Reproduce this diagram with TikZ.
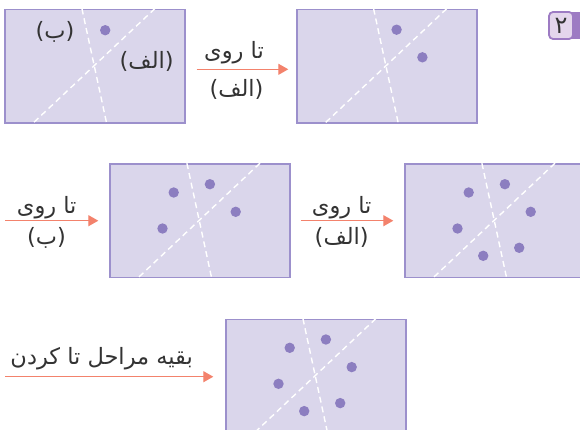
\documentclass[tikz,border=0pt]{standalone}
\usepackage{fontspec}
\usetikzlibrary{arrows.meta}
\TeXXeTstate=1
\newfontfamily\arabicfont[Script=Arabic]{DejaVu Sans}
\definecolor{sheetfill}{HTML}{DAD6EB}
\definecolor{sheetline}{HTML}{9C90CC}
\definecolor{dotcol}{HTML}{8C7EC0}
\definecolor{arrowcol}{HTML}{F3826C}
\definecolor{textcol}{HTML}{333333}
\definecolor{badgefill}{HTML}{E4D6EC}
\definecolor{badgeline}{HTML}{9D7BC3}

\begin{document}
\begin{tikzpicture}[x=1pt,y=-1pt,
  sheet/.style={draw=sheetline,fill=sheetfill,line width=1.6pt,minimum width=180pt,minimum height=113.5pt,inner sep=0pt},
  fold/.style={white,line width=1.4pt,dash pattern=on 6pt off 4pt},
  dot/.style={fill=dotcol},
  foldarrow/.style={arrowcol,line width=1.2pt,-{Triangle[length=10pt,width=11pt]}},
  lbl/.style={text=textcol,font=\arabicfont\fontsize{22.5}{26}\selectfont,inner sep=0pt}]
  \useasboundingbox (0,0) rectangle (580,429);
  \clip (0,0) rectangle (580,429);
  % the five sheets with their two fold lines
  \foreach \n/\x/\y in {1/5/9.3,2/296.7/9.5,3/110/164,4/405/164,5/226/319.3} {
    \node[sheet] (p\n) at (\x+90,\y+56.75) {};
    \draw[fold] ([xshift=77.7pt]p\n.north west) -- ([xshift=102.5pt]p\n.south west);
    \draw[fold] ([xshift=150.8pt]p\n.north west) -- ([xshift=28.3pt]p\n.south west);
  }
  % holes
  \fill[dot] ([shift={(101,21.7)}]p1.north west) circle (5.2);
  \foreach \n in {2,...,5} {
    \fill[dot] ([shift={(100.7,21)}]p\n.north west) circle (5.2);
    \fill[dot] ([shift={(126.5,48.6)}]p\n.north west) circle (5.2);
  }
  \foreach \n in {3,4,5} {
    \fill[dot] ([shift={(64.5,29.3)}]p\n.north west) circle (5.2);
    \fill[dot] ([shift={(53.3,65.3)}]p\n.north west) circle (5.2);
  }
  \foreach \n in {4,5} {
    \fill[dot] ([shift={(79,92.6)}]p\n.north west) circle (5.2);
    \fill[dot] ([shift={(115,84.6)}]p\n.north west) circle (5.2);
  }
  % labels on the first sheet
  \node[lbl] (lb) at (55,31.7) {(ب)};
  \node[lbl] (la) at (146.7,61.7) {(الف)};
  % arrows
  \coordinate (s1) at (196.7,69.3);
  \coordinate (e1) at (288.3,69.3);
  \coordinate (s2) at (5,220.7);
  \coordinate (e2) at (98.3,220.7);
  \coordinate (s3) at (300.7,220.7);
  \coordinate (e3) at (393.3,220.7);
  \coordinate (s4) at (5,376.7);
  \coordinate (e4) at (213.3,376.7);
  \draw[foldarrow] (s1) -- (e1);
  \draw[foldarrow] (s2) -- (e2);
  \draw[foldarrow] (s3) -- (e3);
  \draw[foldarrow] (s4) -- (e4);
  \node[lbl] (t1) at (234,52.5) {\beginR تا روی\endR};
  \node[lbl] (u1) at (236.5,89) {(الف)};
  \node[lbl] (t2) at (46.7,207.5) {\beginR تا روی\endR};
  \node[lbl] (u2) at (46.5,237.5) {(ب)};
  \node[lbl] (t3) at (341.7,207.5) {\beginR تا روی\endR};
  \node[lbl] (u3) at (341.7,237.5) {(الف)};
  \node[lbl] (t4) at (101.7,359) {\beginR بقیه مراحل تا کردن\endR};
  % step number
  \fill[badgeline] (566,12) rectangle (582,39);
  \node[draw=badgeline,fill=badgefill,line width=1.8pt,rounded corners=4pt,minimum width=24pt,minimum height=27pt,inner sep=0pt,text=textcol,font=\arabicfont\fontsize{24}{28}\selectfont] (num) at (561,25.5) {۲};
\end{tikzpicture}
\end{document}
